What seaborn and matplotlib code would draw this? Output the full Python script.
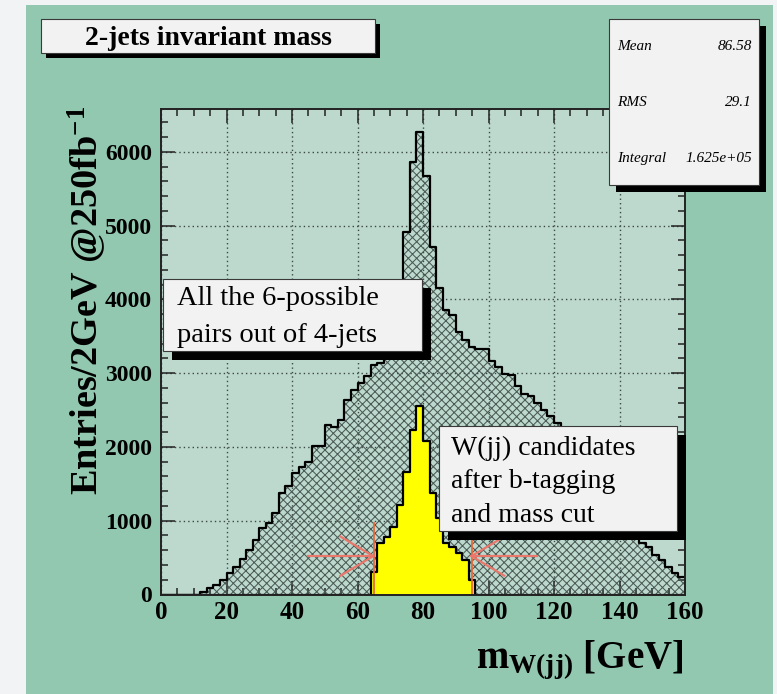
import numpy as np
import pandas as pd
import matplotlib
matplotlib.use("Agg")
import matplotlib.pyplot as plt
from matplotlib.patches import Rectangle
import seaborn as sns

# ---------------- data ----------------
bin_width = 2                              # GeV
mass_range = (0, 160)
all_pairs = [0, 0, 0, 0, 0, 0, 32, 91, 123, 200,
             290, 375, 475, 600, 740, 900, 970, 1104, 1374, 1464,
             1644, 1734, 1800, 2013, 2013, 2297, 2275, 2365, 2635, 2770,
             2870, 2955, 3112, 3135, 3300, 3500, 3800, 4916, 5864, 6270,
             5670, 4713, 4150, 3850, 3788, 3563, 3450, 3351, 3324, 3329,
             3158, 3090, 2991, 2977, 2820, 2720, 2685, 2600, 2500, 2420,
             2330, 2200, 2080, 1960, 1850, 1720, 1600, 1470, 1340, 1200,
             1060, 930, 800, 700, 650, 537, 468, 378, 287, 242]
w_cands = [0] * 32 + [310, 695, 785, 920, 1215, 1667, 2233, 2550,
                      2075, 1373, 1034, 695, 650, 560, 468, 197] + [0] * 32
cut_lo, cut_hi = 65, 95
stats_labels = ["Mean", "RMS", "Integral"]
stats_values = ["86.58", "29.1", "1.625e+05"]
x_ticks = list(range(0, 161, 20))
y_ticks = list(range(0, 6001, 1000))

# ---------------- style ----------------
W, H = 777, 694
SERIF = "Liberation Serif"
plt.rcParams["font.family"] = [SERIF, "DejaVu Serif"]
plt.rcParams["mathtext.fontset"] = "custom"
plt.rcParams["mathtext.rm"] = SERIF
plt.rcParams["mathtext.bf"] = SERIF + ":bold"
plt.rcParams["mathtext.it"] = SERIF + ":italic"
plt.rcParams["hatch.linewidth"] = 0.75

canvas_green = "#92C7B0"
frame_fill = "#BDD9CE"
box_fill = "#F2F2F2"
hatch_col = "#4A5A54"

fig = plt.figure(figsize=(W / 100, H / 100), dpi=100, facecolor="#F2F3F5")


def fx(x):
    return x / W


def fy(y):
    return 1 - y / H


# green canvas
fig.add_artist(Rectangle((fx(26), 0), (773 - 26) / W, fy(5), transform=fig.transFigure,
                         facecolor=canvas_green, edgecolor="none", zorder=-10))

ax = fig.add_axes([fx(161), fy(594.5), (685 - 161) / W, (594.5 - 109) / H])
ax.set_facecolor(frame_fill)

n_bins = len(all_pairs)
centers = mass_range[0] + bin_width * (np.arange(n_bins) + 0.5)
df = pd.DataFrame({"mjj": centers, "n_all": np.asarray(all_pairs, float),
                   "n_w": np.asarray(w_cands, float)})
hkw = dict(data=df, x="mjj", binwidth=bin_width, binrange=mass_range, element="step", ax=ax)

# all pairs: hatched fill + black outline
sns.histplot(weights="n_all", fill=True, color=hatch_col, alpha=1, linewidth=0, **hkw)
hcoll = ax.collections[-1]
hcoll.set_facecolor("none")
hcoll.set_edgecolor(hatch_col)
hcoll.set_linewidth(0)
hcoll.set_hatch("xxxx")
hcoll.set_zorder(1)
sns.histplot(weights="n_all", fill=False, color="black", linewidth=1.6, **hkw)

# W candidates: yellow
sns.histplot(weights="n_w", fill=True, color="#FFFF00", alpha=1, linewidth=0, **hkw)
ycoll = ax.collections[-1]
ycoll.set_facecolor("#FFFF00")
ycoll.set_edgecolor("none")
ycoll.set_zorder(2)
sns.histplot(weights="n_w", fill=False, color="black", linewidth=1.6, **hkw)
for ln in ax.lines:
    ln.set_zorder(3)

# cut lines and arrows
cut_col = "#E8693A"
arr_col = "#EA776C"
ax.plot([cut_lo, cut_lo], [0, 970], color=cut_col, lw=1.3, zorder=4)
ax.plot([cut_hi, cut_hi], [0, 780], color=cut_col, lw=1.3, zorder=4)
arrow_y, arrow_len, head_len, head_half = 520, 20, 10, 265
for tip, sgn in [(cut_lo - 0.2, -1), (cut_hi - 0.2, 1)]:
    ax.plot([tip, tip + sgn * arrow_len], [arrow_y, arrow_y], color=arr_col, lw=1.6, zorder=4)
    ax.plot([tip + sgn * head_len, tip, tip + sgn * head_len],
            [arrow_y + head_half, arrow_y, arrow_y - head_half], color=arr_col, lw=1.6, zorder=4)

ax.set_xlim(*mass_range)
ax.set_ylim(0, 6580)
ax.set_xlabel("")
ax.set_ylabel("")
ax.set_xticks(x_ticks)
ax.set_xticklabels([str(v) for v in x_ticks])
ax.set_yticks(y_ticks)
ax.set_yticklabels([str(v) for v in y_ticks])
ax.set_xticks(np.arange(0, 161, 5), minor=True)
ax.set_yticks(np.arange(0, 6581, 200), minor=True)
ax.tick_params(which="both", direction="in", top=True, right=True, width=1.1, color="#222222")
ax.tick_params(which="major", length=10)
ax.tick_params(which="minor", length=5)
ax.tick_params(axis="y", pad=6.5)
ax.tick_params(axis="x", pad=5)
for lab in ax.get_xticklabels():
    lab.set_fontweight("bold")
    lab.set_fontsize(18)
for lab in ax.get_yticklabels():
    lab.set_fontweight("bold")
    lab.set_fontsize(17)
ax.set_axisbelow(True)
ax.grid(True, which="major", color="#3C4844", linestyle=(0, (1, 2.2)), linewidth=1.0)
for sp in ax.spines.values():
    sp.set_linewidth(1.4)
    sp.set_color("#222222")
    sp.set_zorder(5)


def box(x0, y0, x1, y1, shadow):
    fig.add_artist(Rectangle((fx(x0 + shadow), fy(y1 + shadow)), (x1 - x0) / W, (y1 - y0) / H,
                             transform=fig.transFigure, facecolor="black", edgecolor="none", zorder=5))
    fig.add_artist(Rectangle((fx(x0), fy(y1)), (x1 - x0) / W, (y1 - y0) / H,
                             transform=fig.transFigure, facecolor=box_fill, edgecolor="#3A3A3A",
                             linewidth=0.8, zorder=6))


# title box
box(41, 19, 375, 53, 5)
fig.text(fx(208), fy(45), "2-jets invariant mass", ha="center", va="baseline",
         fontsize=20, fontweight="bold", zorder=7)

# stats box
box(609, 19, 759, 185, 7)
for i, (lab, val) in enumerate(zip(stats_labels, stats_values)):
    yb = 50 + i * 56
    fig.text(fx(617), fy(yb), lab, ha="left", va="baseline", fontsize=11, style="italic", zorder=7)
    fig.text(fx(752), fy(yb), val, ha="right", va="baseline", fontsize=11, style="italic", zorder=7)

# annotation boxes
box(163, 279, 422, 351, 9)
for i, line in enumerate(["All the 6-possible", "pairs out of 4-jets"]):
    fig.text(fx(177), fy(305 + i * 37), line, ha="left", va="baseline", fontsize=20.5, zorder=7)

box(439, 426, 677, 531, 9)
for i, line in enumerate(["W(jj) candidates", "after b-tagging", "and mass cut"]):
    fig.text(fx(451), fy(455 + i * 33.3), line, ha="left", va="baseline", fontsize=20, zorder=7)

# axis titles
fig.text(fx(98), fy(495), "Entries/2GeV @250fb$^{\\mathbf{-1}}$", rotation=90, rotation_mode="anchor",
         ha="left", va="baseline", fontsize=27.5, fontweight="bold")
fig.text(fx(683), fy(668), "m$_{\\mathbf{W(jj)}}$ [GeV]", ha="right", va="baseline",
         fontsize=28, fontweight="bold")

fig.savefig("out.png", dpi=100, facecolor=fig.get_facecolor())
